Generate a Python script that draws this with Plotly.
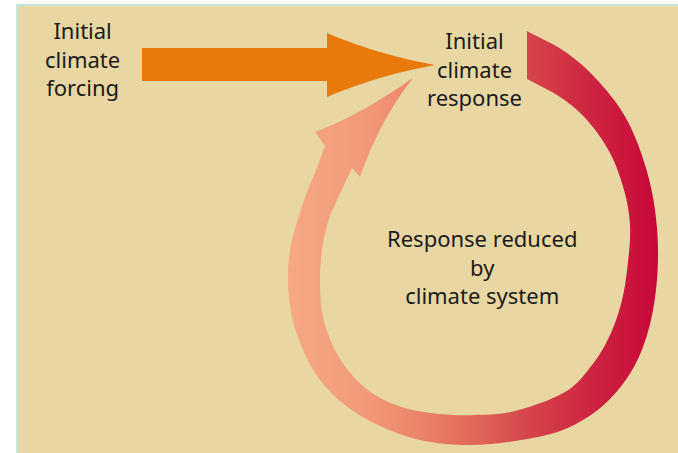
import numpy as np
import plotly.graph_objects as go

W, H = 678, 453

# ---- text labels ----
forcing_lines = ["Initial", "climate", "forcing"]
forcing_xy = (82, 58)

response_lines = ["Initial", "climate", "response"]
response_xy = (474, 68)

reduced_lines = ["Response reduced", "by", "climate system"]
reduced_xy = (482, 266)

# ---- orange forcing arrow (pixel coords) ----
shaft_x0, shaft_x1 = 142, 327
shaft_y0, shaft_y1 = 48, 81
head_top, head_bot = 33, 97
tip = (435, 65)
head_top_mid = (380, 52)
head_bot_mid = (380, 78)

# ---- feedback loop edges (pixel coords, clockwise from top start) ----
outer_x = [527, 567, 600, 627, 645, 655, 658, 653, 641, 622, 595, 560, 515, 467, 420, 378, 345, 320, 303, 292, 288, 290, 297, 306, 316, 325]
outer_y = [31, 53, 83, 120, 165, 210, 260, 310, 352, 385, 412, 431, 441, 445, 440, 425, 405, 380, 350, 317, 283, 250, 222, 195, 170, 146]
inner_x = [527, 560, 587, 610, 624, 630, 628, 622, 610, 592, 565, 515, 475, 440, 405, 375, 352, 335, 323, 320, 322, 328, 337, 345, 352]
inner_y = [79, 97, 120, 153, 190, 225, 262, 300, 335, 365, 392, 411, 415, 414, 408, 395, 375, 350, 317, 283, 250, 222, 200, 183, 168]
# arrow head of loop: left barb, left-edge mid, tip, right-edge mid, right barb
loop_head_x = [315, 362, 413, 383, 360]
loop_head_y = [132, 110, 78, 124, 177]

loop_colors = [[0.0, "#F6A983"], [0.2, "#F29A79"], [0.35, "#EC846A"],
               [0.5, "#E06858"], [0.65, "#D6444B"], [0.8, "#CE2841"],
               [1.0, "#C8063A"]]


def catmull(xs, ys, n=10):
    pts = np.column_stack([xs, ys]).astype(float)
    P = np.vstack([pts[0] * 2 - pts[1], pts, pts[-1] * 2 - pts[-2]])
    out = []
    for i in range(1, len(P) - 2):
        p0, p1, p2, p3 = P[i - 1], P[i], P[i + 1], P[i + 2]
        for t in np.linspace(0, 1, n, endpoint=False):
            t2, t3 = t * t, t * t * t
            out.append(0.5 * ((2 * p1) + (-p0 + p2) * t
                              + (2 * p0 - 5 * p1 + 4 * p2 - p3) * t2
                              + (-p0 + 3 * p1 - 3 * p2 + p3) * t3))
    out.append(pts[-1])
    return np.array(out)


def qbez_through(p0, m, p2, n=16):
    p0, m, p2 = map(lambda p: np.array(p, float), (p0, m, p2))
    c = (4 * m - p0 - p2) / 2
    t = np.linspace(0, 1, n)[:, None]
    return (1 - t) ** 2 * p0 + 2 * (1 - t) * t * c + t ** 2 * p2


fig = go.Figure()

# orange arrow
top_edge = qbez_through((shaft_x1, head_top), head_top_mid, tip)
bot_edge = qbez_through(tip, head_bot_mid, (shaft_x1, head_bot))
ax = [shaft_x0, shaft_x1] + list(top_edge[:, 0]) + list(bot_edge[1:, 0]) + [shaft_x1, shaft_x0, shaft_x0]
ay = [shaft_y0, shaft_y0] + list(top_edge[:, 1]) + list(bot_edge[1:, 1]) + [shaft_y1, shaft_y1, shaft_y0]
fig.add_trace(go.Scatter(x=ax, y=ay, mode="none", fill="toself",
                         fillcolor="#E87A0C", hoverinfo="skip", showlegend=False))

# loop arrow
outer = catmull(outer_x, outer_y)
inner = catmull(inner_x, inner_y)
lh = np.column_stack([loop_head_x, loop_head_y]).astype(float)
left_edge = qbez_through(lh[0], lh[1], lh[2])
right_edge = qbez_through(lh[2], lh[3], lh[4])
poly = np.vstack([outer, left_edge, right_edge[1:], inner[::-1], outer[:1]])
fig.add_trace(go.Scatter(x=poly[:, 0], y=poly[:, 1], mode="none", fill="toself",
                         fillgradient=dict(type="horizontal", colorscale=loop_colors,
                                           start=288, stop=660),
                         hoverinfo="skip", showlegend=False))

annotations = []
font = dict(family="'Noto Sans', 'Open Sans', sans-serif", size=22, color="#1b1b1b")
for lines, (x, y) in [(forcing_lines, forcing_xy),
                      (response_lines, response_xy),
                      (reduced_lines, reduced_xy)]:
    annotations.append(dict(text="<br>".join(lines), x=x, y=y, xref="x", yref="y",
                            showarrow=False, xanchor="center", yanchor="middle",
                            align="center", font=font))

fig.update_layout(
    width=W, height=H,
    margin=dict(l=0, r=0, t=0, b=0),
    paper_bgcolor="white", plot_bgcolor="white",
    xaxis=dict(range=[0, W], visible=False, fixedrange=True),
    yaxis=dict(range=[H, 0], visible=False, fixedrange=True),
    shapes=[dict(type="rect", xref="x", yref="y", x0=17, x1=W + 2, y0=5, y1=H + 2,
                 fillcolor="#E8D6A3", line=dict(color="#C9E3DE", width=2), layer="below")],
    annotations=annotations,
    showlegend=False,
)

fig.write_html("out.html", config={"displayModeBar": False},
               post_script="document.body.style.margin='0';document.body.style.overflow='hidden';")
